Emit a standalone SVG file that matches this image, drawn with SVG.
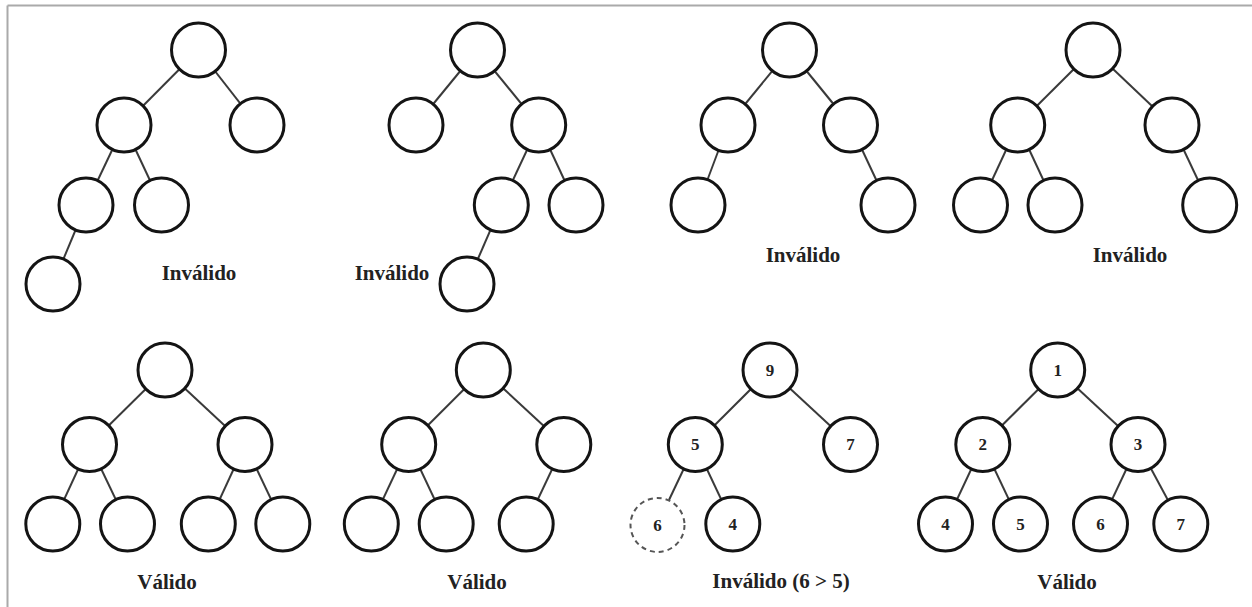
<svg xmlns="http://www.w3.org/2000/svg" width="1252" height="607" viewBox="0 0 1252 607">
<style>
.n{fill:#fff;stroke:#141414;stroke-width:3}
.d{fill:#fff;stroke:#555;stroke-width:2;stroke-dasharray:5 4}
.e line{stroke:#3a3a3a;stroke-width:2}
.t{font-family:"Liberation Serif",serif;font-weight:bold;font-size:21px;fill:#222;text-anchor:middle}
.v{font-family:"Liberation Serif",serif;font-weight:bold;font-size:17px;fill:#222;text-anchor:middle;dominant-baseline:central}
</style>
<rect width="1252" height="607" fill="#fff"/>
<g id="frame" stroke="#aaa" stroke-width="2" fill="none">
<line x1="7.5" y1="5.5" x2="1252" y2="5.5"/>
<line x1="7.5" y1="5.5" x2="7.5" y2="607"/>
</g>
<g id="connectors" class="e">
<!-- tree 1 -->
<line x1="198.5" y1="50" x2="124" y2="125"/><line x1="198.5" y1="50" x2="257" y2="125"/>
<line x1="124" y1="125" x2="86" y2="205"/><line x1="124" y1="125" x2="161.5" y2="205"/>
<line x1="86" y1="205" x2="53" y2="284"/>
<!-- tree 2 -->
<line x1="477.5" y1="50" x2="416" y2="125"/><line x1="477.5" y1="50" x2="538.7" y2="125"/>
<line x1="538.7" y1="125" x2="501.3" y2="205"/><line x1="538.7" y1="125" x2="576" y2="205"/>
<line x1="501.3" y1="205" x2="467" y2="284"/>
<!-- tree 3 -->
<line x1="789.5" y1="50" x2="728" y2="125"/><line x1="789.5" y1="50" x2="850.5" y2="125"/>
<line x1="728" y1="125" x2="698" y2="205"/><line x1="850.5" y1="125" x2="888" y2="205"/>
<!-- tree 4 -->
<line x1="1093" y1="50" x2="1017.7" y2="125"/><line x1="1093" y1="50" x2="1172" y2="125"/>
<line x1="1017.7" y1="125" x2="980.5" y2="205"/><line x1="1017.7" y1="125" x2="1055" y2="205"/>
<line x1="1172" y1="125" x2="1209.7" y2="205"/>
<!-- tree 5 -->
<line x1="165" y1="370" x2="89.5" y2="444.5"/><line x1="165" y1="370" x2="245" y2="444.5"/>
<line x1="89.5" y1="444.5" x2="52.8" y2="524"/><line x1="89.5" y1="444.5" x2="127.5" y2="524"/>
<line x1="245" y1="444.5" x2="208.3" y2="524"/><line x1="245" y1="444.5" x2="282.8" y2="524"/>
<!-- tree 6 -->
<line x1="483.3" y1="370" x2="408.7" y2="444.5"/><line x1="483.3" y1="370" x2="563.8" y2="444.5"/>
<line x1="408.7" y1="444.5" x2="371.3" y2="524"/><line x1="408.7" y1="444.5" x2="446.2" y2="524"/>
<line x1="563.8" y1="444.5" x2="526.2" y2="524"/>
<!-- tree 7 -->
<line x1="770" y1="370" x2="695.3" y2="444.5"/><line x1="770" y1="370" x2="850.5" y2="444.5"/>
<line x1="695.3" y1="444.5" x2="669" y2="500"/><line x1="695.3" y1="444.5" x2="732.8" y2="524"/>
<!-- tree 8 -->
<line x1="1057.7" y1="370" x2="982.8" y2="444.5"/><line x1="1057.7" y1="370" x2="1138" y2="444.5"/>
<line x1="982.8" y1="444.5" x2="945.5" y2="524"/><line x1="982.8" y1="444.5" x2="1020.5" y2="524"/>
<line x1="1138" y1="444.5" x2="1100.5" y2="524"/><line x1="1138" y1="444.5" x2="1180.8" y2="524"/>
</g>
<g id="tree1">
<circle class="n" cx="198.5" cy="50" r="27"/><circle class="n" cx="124" cy="125" r="27"/><circle class="n" cx="257" cy="125" r="27"/>
<circle class="n" cx="86" cy="205" r="27"/><circle class="n" cx="161.5" cy="205" r="27"/><circle class="n" cx="53" cy="284" r="27"/>
<text class="t" x="199" y="280">Inválido</text>
</g>
<g id="tree2">
<circle class="n" cx="477.5" cy="50" r="27"/><circle class="n" cx="416" cy="125" r="27"/><circle class="n" cx="538.7" cy="125" r="27"/>
<circle class="n" cx="501.3" cy="205" r="27"/><circle class="n" cx="576" cy="205" r="27"/><circle class="n" cx="467" cy="284" r="27"/>
<text class="t" x="392" y="280">Inválido</text>
</g>
<g id="tree3">
<circle class="n" cx="789.5" cy="50" r="27"/><circle class="n" cx="728" cy="125" r="27"/><circle class="n" cx="850.5" cy="125" r="27"/>
<circle class="n" cx="698" cy="205" r="27"/><circle class="n" cx="888" cy="205" r="27"/>
<text class="t" x="803" y="262">Inválido</text>
</g>
<g id="tree4">
<circle class="n" cx="1093" cy="50" r="27"/><circle class="n" cx="1017.7" cy="125" r="27"/><circle class="n" cx="1172" cy="125" r="27"/>
<circle class="n" cx="980.5" cy="205" r="27"/><circle class="n" cx="1055" cy="205" r="27"/><circle class="n" cx="1209.7" cy="205" r="27"/>
<text class="t" x="1130" y="262">Inválido</text>
</g>
<g id="tree5">
<circle class="n" cx="165" cy="370" r="27"/><circle class="n" cx="89.5" cy="444.5" r="27"/><circle class="n" cx="245" cy="444.5" r="27"/>
<circle class="n" cx="52.8" cy="524" r="27"/><circle class="n" cx="127.5" cy="524" r="27"/><circle class="n" cx="208.3" cy="524" r="27"/><circle class="n" cx="282.8" cy="524" r="27"/>
<text class="t" x="167" y="589">Válido</text>
</g>
<g id="tree6">
<circle class="n" cx="483.3" cy="370" r="27"/><circle class="n" cx="408.7" cy="444.5" r="27"/><circle class="n" cx="563.8" cy="444.5" r="27"/>
<circle class="n" cx="371.3" cy="524" r="27"/><circle class="n" cx="446.2" cy="524" r="27"/><circle class="n" cx="526.2" cy="524" r="27"/>
<text class="t" x="477" y="589">Válido</text>
</g>
<g id="tree7">
<circle class="n" cx="770" cy="370" r="27"/><text class="v" x="770" y="370">9</text>
<circle class="n" cx="695.3" cy="444.5" r="27"/><text class="v" x="695.3" y="444.5">5</text>
<circle class="n" cx="850.5" cy="444.5" r="27"/><text class="v" x="850.5" y="444.5">7</text>
<circle class="d" cx="657.5" cy="525" r="27"/><text class="v" x="657.5" y="525">6</text>
<circle class="n" cx="732.8" cy="524" r="27"/><text class="v" x="732.8" y="524">4</text>
<text class="t" x="781" y="588">Inválido (6 &gt; 5)</text>
</g>
<g id="tree8">
<circle class="n" cx="1057.7" cy="370" r="27"/><text class="v" x="1057.7" y="370">1</text>
<circle class="n" cx="982.8" cy="444.5" r="27"/><text class="v" x="982.8" y="444.5">2</text>
<circle class="n" cx="1138" cy="444.5" r="27"/><text class="v" x="1138" y="444.5">3</text>
<circle class="n" cx="945.5" cy="524" r="27"/><text class="v" x="945.5" y="524">4</text>
<circle class="n" cx="1020.5" cy="524" r="27"/><text class="v" x="1020.5" y="524">5</text>
<circle class="n" cx="1100.5" cy="524" r="27"/><text class="v" x="1100.5" y="524">6</text>
<circle class="n" cx="1180.8" cy="524" r="27"/><text class="v" x="1180.8" y="524">7</text>
<text class="t" x="1067" y="589">Válido</text>
</g>
</svg>
